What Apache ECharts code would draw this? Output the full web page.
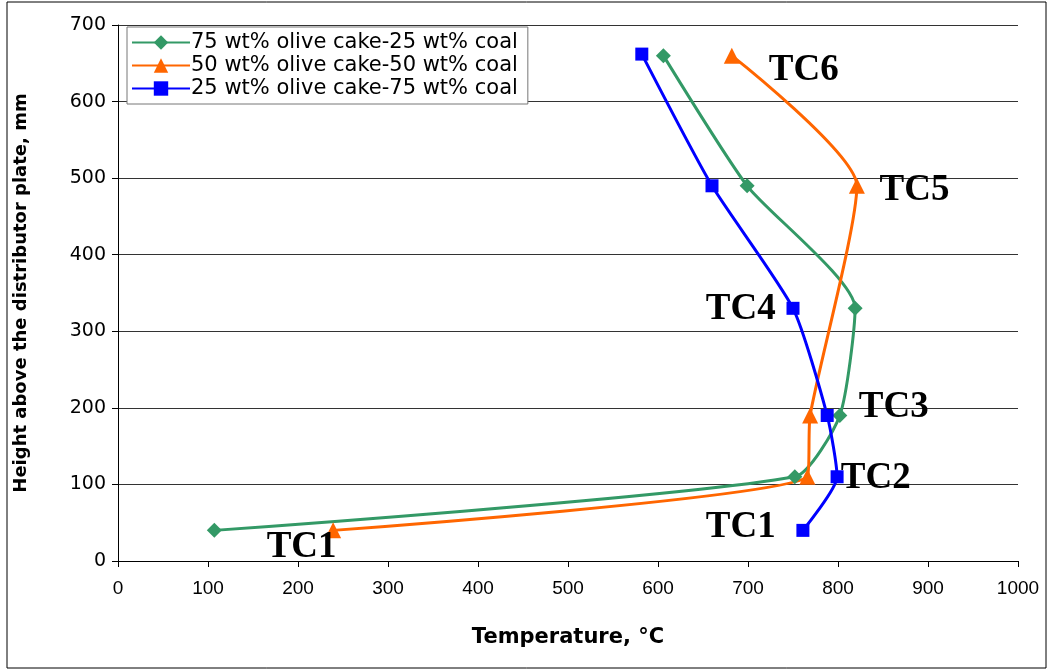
<!DOCTYPE html>
<html>
<head>
<meta charset="utf-8">
<script src="https://cdn.jsdelivr.net/npm/echarts@6/dist/echarts.min.js"></script>
<style>
  html, body { margin: 0; padding: 0; background: #fff; }
  #chart { width: 1049px; height: 670px; }
</style>
</head>
<body>
<div id="chart"></div>
<script>
// temperature (degC), height (mm) pairs, bottom to top
var heights = [40, 110, 190, 330, 490, 660];
var heightsBlue = [40, 110, 190, 330, 490, 662];
var tempGreen = [107, 752, 802, 819, 699, 606];
var tempOrange = [239, 766, 769, null, 821, 682];
var tempBlue = [761, 799, 788, 750, 660, 582];

var seriesNames = [
  '75 wt% olive cake-25 wt% coal',
  '50 wt% olive cake-50 wt% coal',
  '25 wt% olive cake-75 wt% coal'
];

// thermocouple labels: text, temperature, height
var tcText = ['TC6', 'TC5', 'TC4', 'TC3', 'TC2', 'TC1', 'TC1'];
var tcTemp = [762, 885, 692, 862, 842, 692, 204];
var tcHeight = [641, 484, 328, 201, 108, 44, 18];

function pairs(xs, ys) {
  var out = [];
  for (var i = 0; i < xs.length; i++) {
    if (xs[i] != null) out.push([xs[i], ys[i]]);
  }
  return out;
}

var tcData = [];
for (var i = 0; i < tcText.length; i++) {
  tcData.push({ name: tcText[i], value: [tcTemp[i], tcHeight[i]] });
}

var chart = echarts.init(document.getElementById('chart'));
var sans = 'DejaVu Sans, Arial, sans-serif';

var option = {
  animation: false,
  backgroundColor: '#fff',
  grid: { left: 118, right: 31, top: 25, bottom: 109 },
  legend: {
    orient: 'vertical',
    left: 127,
    top: 27,
    padding: [5, 10, 5, 4],
    itemGap: 2,
    itemWidth: 58,
    itemHeight: 18,
    backgroundColor: '#fff',
    borderColor: '#777',
    borderWidth: 1,
    borderRadius: 0,
    textStyle: { color: '#000', fontFamily: sans, fontSize: 21, padding: [0, 0, 0, -4] },
    data: seriesNames
  },
  xAxis: {
    type: 'value',
    min: 0,
    max: 1000,
    interval: 100,
    name: 'Temperature, °C',
    nameLocation: 'middle',
    nameGap: 66,
    nameTextStyle: { color: '#000', fontFamily: sans, fontSize: 21, fontWeight: 'bold' },
    axisLine: { lineStyle: { color: '#000', width: 1 } },
    axisTick: { show: true, length: 6, lineStyle: { color: '#000' } },
    axisLabel: {
      margin: 18, color: '#000', fontFamily: 'Liberation Sans, Arial, sans-serif', fontSize: 19,
      formatter: function (v) { return String(v); }
    },
    splitLine: { show: false }
  },
  yAxis: {
    type: 'value',
    min: 0,
    max: 700,
    interval: 100,
    name: 'Height above the distributor plate, mm',
    nameLocation: 'middle',
    nameGap: 88,
    nameTextStyle: { color: '#000', fontFamily: sans, fontSize: 18, fontWeight: 'bold', padding: [0, 0, 0, 0] },
    axisLine: { show: true, lineStyle: { color: '#000', width: 1 } },
    axisTick: { show: true, length: 6, lineStyle: { color: '#000' } },
    axisLabel: { margin: 12, color: '#000', fontFamily: sans, fontSize: 19 },
    splitLine: { show: true, lineStyle: { color: '#333', width: 1 } }
  },
  series: [
    {
      name: seriesNames[0],
      type: 'line',
      smooth: 0.2,
      symbol: 'diamond',
      symbolSize: 15,
      color: '#339966',
      lineStyle: { width: 3 },
      data: pairs(tempGreen, heights)
    },
    {
      name: seriesNames[1],
      type: 'line',
      smooth: 0.2,
      symbol: 'triangle',
      symbolSize: 16,
      color: '#FF6600',
      lineStyle: { width: 3 },
      data: pairs(tempOrange, heights)
    },
    {
      name: seriesNames[2],
      type: 'line',
      smooth: 0.2,
      symbol: 'rect',
      symbolSize: 13,
      color: '#0000FF',
      lineStyle: { width: 3 },
      data: pairs(tempBlue, heightsBlue)
    },
    {
      type: 'scatter',
      symbolSize: 1,
      silent: true,
      z: 5,
      itemStyle: { color: 'rgba(0,0,0,0)', opacity: 1 },
      label: {
        show: true,
        position: 'inside',
        formatter: '{b}',
        color: '#000',
        opacity: 1,
        textBorderWidth: 0,
        fontFamily: 'Liberation Serif, Times New Roman, serif',
        fontWeight: 'bold',
        fontSize: 37
      },
      data: tcData
    }
  ],
  graphic: [
    {
      type: 'rect',
      shape: { x: 7, y: 2, width: 1039, height: 666 },
      style: { fill: null, stroke: '#000', lineWidth: 1 },
      silent: true,
      z: -1
    }
  ]
};

chart.setOption(option);
</script>
</body>
</html>
